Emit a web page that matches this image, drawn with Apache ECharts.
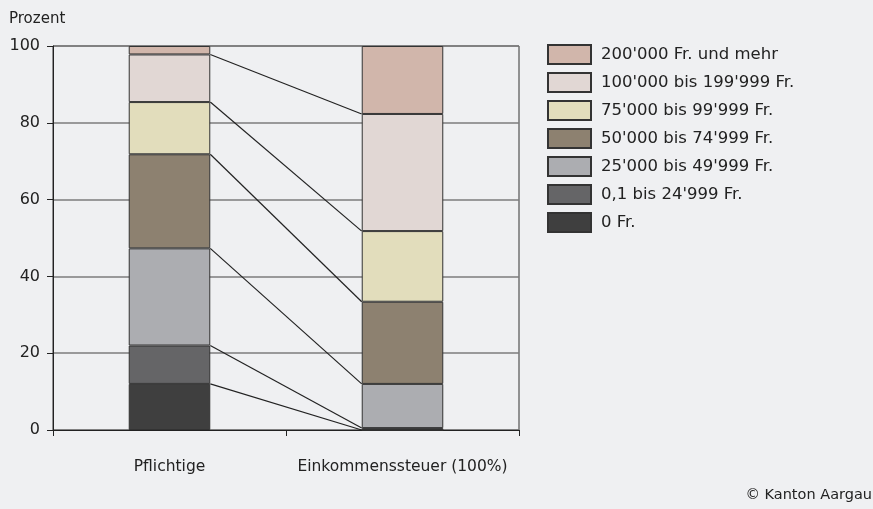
<!DOCTYPE html>
<html>
<head>
<meta charset="utf-8">
<script src="https://cdn.jsdelivr.net/npm/echarts@6/dist/echarts.min.js"></script>
<style>
html,body{margin:0;padding:0;background:#eff0f2;}
#c{width:873px;height:509px;}
</style>
</head>
<body>
<div id="c"></div>
<script>
const categories = ['Pflichtige', 'Einkommenssteuer (100%)'];
const seriesNames = ['0 Fr.', "0,1 bis 24'999 Fr.", "25'000 bis 49'999 Fr.", "50'000 bis 74'999 Fr.", "75'000 bis 99'999 Fr.", "100'000 bis 199'999 Fr.", "200'000 Fr. und mehr"];
const pflichtige = [12.0, 10.0, 25.3, 24.5, 13.6, 12.4, 2.2];
const steuer = [0, 0.5, 11.5, 21.4, 18.4, 30.5, 17.7];
const colors = ['#3f3f3f', '#656567', '#acadb1', '#8d8170', '#e2ddbc', '#e1d7d4', '#d1b6ab'];
const yTicks = [0, 20, 40, 60, 80, 100];

const FONT = 'DejaVu Sans';
const barW = 0.35;

const series = seriesNames.map((name, i) => ({
  name: name,
  type: 'bar',
  stack: 'total',
  barWidth: (barW * 100) + '%',
  data: [pflichtige[i], steuer[i]],
  itemStyle: { color: colors[i], borderColor: '#333', borderWidth: 1 },
  emphasis: { disabled: true },
  z: 3
}));

// connector lines between cumulative boundaries
const connectors = [];
let c1 = 0, c2 = 0;
for (let i = 0; i < seriesNames.length - 1; i++) {
  c1 += pflichtige[i];
  c2 += steuer[i];
  connectors.push({ coords: [[0.5 + barW / 2, c1], [1.5 - barW / 2, c2]] });
}
series.push({
  type: 'lines',
  coordinateSystem: 'cartesian2d',
  xAxisIndex: 1,
  yAxisIndex: 0,
  silent: true,
  lineStyle: { color: '#222', width: 1.2, opacity: 1 },
  data: connectors,
  z: 4
});

const chart = echarts.init(document.getElementById('c'));
chart.setOption({
  backgroundColor: '#eff0f2',
  animation: false,
  title: {
    text: 'Prozent', left: 4, top: 7,
    textStyle: { fontFamily: FONT, fontSize: 15, fontWeight: 'normal', color: '#222' }
  },
  grid: { left: 53, right: 354, top: 46, bottom: 79, show: true, borderColor: '#333', borderWidth: 1, backgroundColor: 'transparent' },
  legend: {
    orient: 'vertical', left: 547, top: 44, padding: 0,
    itemWidth: 43, itemHeight: 19, itemGap: 7,
    icon: 'rect',
    data: seriesNames.slice().reverse(),
    selectedMode: false,
    textStyle: { fontFamily: FONT, fontSize: 16.5, color: '#222', padding: [0, 0, 0, 5] }
  },
  xAxis: [{
    type: 'category',
    data: categories,
    axisLine: { lineStyle: { color: '#222', width: 1 } },
    axisTick: { show: true, length: 6, alignWithLabel: false, interval: 0, lineStyle: { color: '#222' } },
    axisLabel: { fontFamily: FONT, fontSize: 15.5, color: '#222', margin: 29, interval: 0 },
    splitLine: { show: false }
  }, {
    type: 'value', min: 0, max: 2, show: false
  }],
  yAxis: {
    type: 'value', min: yTicks[0], max: yTicks[yTicks.length - 1], interval: 20,
    axisLine: { show: true, lineStyle: { color: '#222', width: 1 } },
    axisTick: { show: true, length: 6, lineStyle: { color: '#222' } },
    axisLabel: { fontFamily: FONT, fontSize: 16, color: '#222', margin: 13 },
    splitLine: { show: true, lineStyle: { color: '#7d7d7d', width: 1.5 } }
  },
  graphic: [{
    type: 'text', right: 1, top: 488,
    style: { text: '\u00A9 Kanton Aargau', fontFamily: FONT, fontSize: 14.5, fill: '#222' }
  }],
  series: series
});
</script>
</body>
</html>
